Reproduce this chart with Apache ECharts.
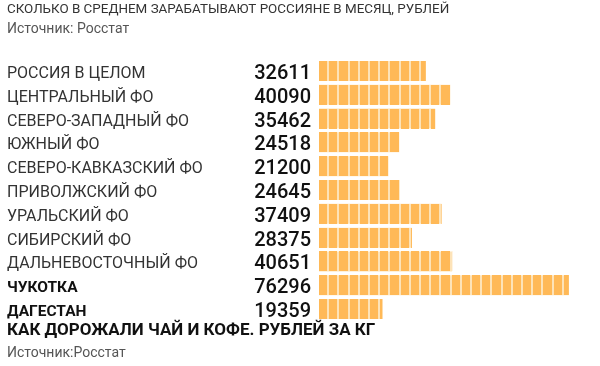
<!DOCTYPE html>
<html><head><meta charset="utf-8">
<script src="https://cdn.jsdelivr.net/npm/echarts@6/dist/echarts.min.js"></script>
<style>html,body{margin:0;padding:0;background:#fff}#c{width:600px;height:366px}</style>
</head><body><div id="c"></div>
<script>
const categories = ['РОССИЯ В ЦЕЛОМ','ЦЕНТРАЛЬНЫЙ ФО','СЕВЕРО-ЗАПАДНЫЙ ФО','ЮЖНЫЙ ФО','СЕВЕРО-КАВКАЗСКИЙ ФО','ПРИВОЛЖСКИЙ ФО','УРАЛЬСКИЙ ФО','СИБИРСКИЙ ФО','ДАЛЬНЕВОСТОЧНЫЙ ФО','ЧУКОТКА','ДАГЕСТАН'];
const salaries = [32611,40090,35462,24518,21200,24645,37409,28375,40651,76296,19359];
const boldCategories = ['ЧУКОТКА','ДАГЕСТАН'];

const SEG_PITCH = 10.2, SEG_GAP = 2, BAR_H = 20;

const chart = echarts.init(document.getElementById('c'));
chart.setOption({
  animation:false,
  backgroundColor:'#fff',
  textStyle:{fontFamily:'Roboto'},
  title:[
    {text:'СКОЛЬКО В СРЕДНЕМ ЗАРАБАТЫВАЮТ РОССИЯНЕ В МЕСЯЦ, РУБЛЕЙ',left:7,top:3,padding:0,
     textStyle:{fontSize:13.4,fontWeight:'normal',color:'#333',fontFamily:'Roboto'}},
    {text:'Источник: Росстат',left:7,top:22,padding:0,
     textStyle:{fontSize:14,fontWeight:'normal',color:'#555',fontFamily:'Roboto'}},
    {text:'КАК ДОРОЖАЛИ ЧАЙ И КОФЕ. РУБЛЕЙ ЗА КГ',left:7,top:322,padding:0,
     textStyle:{fontSize:17,fontWeight:'bold',color:'#111',fontFamily:'Roboto'}},
    {text:'Источник:Росстат',left:7,top:346,padding:0,
     textStyle:{fontSize:14,fontWeight:'normal',color:'#555',fontFamily:'Roboto'}}
  ],
  grid:{left:319,top:59,width:262,height:262},
  xAxis:{type:'value',min:0,max:80000,show:false},
  yAxis:{type:'category',data:categories,inverse:true,
    axisLine:{show:false},axisTick:{show:false},
    axisLabel:{align:'left',margin:312,fontSize:16,color:'#333',fontFamily:'Roboto',padding:[6,0,0,0],
      formatter:v=> boldCategories.includes(v) ? '{b|'+v+'}' : v,
      rich:{b:{fontSize:15.5,fontWeight:'bold',color:'#111',fontFamily:'Roboto'}}}},
  series:[
    {type:'bar',data:salaries,barWidth:BAR_H,itemStyle:{color:'#fde3b8'},
     label:{show:true,position:'left',distance:8,offset:[0,3],fontSize:20,fontWeight:500,color:'#111',fontFamily:'Roboto'}},
    {type:'custom',data:salaries.map((v,i)=>[v,i]),encode:{x:0,y:1},z:3,
     renderItem:(params,api)=>{
       const v = api.value(0), c = api.value(1);
       const s = api.coord([0,c]), e = api.coord([v,c]);
       const y = Math.round(s[1]-BAR_H/2);
       const children = [];
       for (let k = 0; ; k++) {
         const x0 = Math.round(s[0] + k*SEG_PITCH);
         if (x0 >= e[0]) break;
         const x1 = Math.min(Math.round(s[0] + (k+1)*SEG_PITCH) - SEG_GAP, e[0]);
         children.push({type:'rect',shape:{x:x0,y:y,width:Math.max(0,x1-x0),height:BAR_H},
           style:{fill:'#ffb957'}});
       }
       return {type:'group',children:children};
     }}
  ]
});
</script></body></html>
